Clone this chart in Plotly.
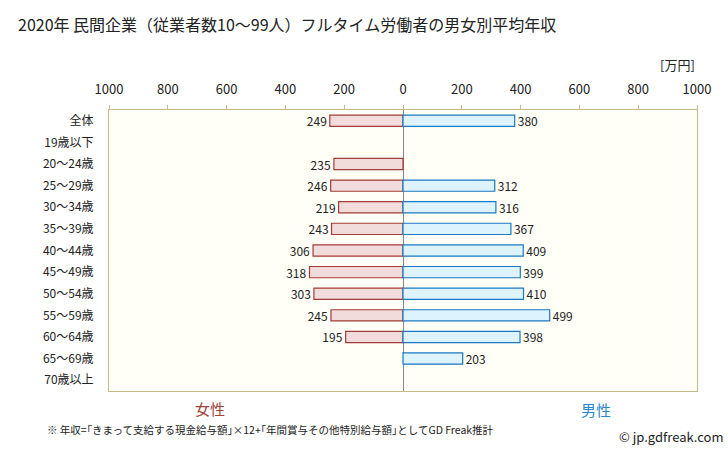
import plotly.graph_objects as go

categories = ["全体", "19歳以下", "20～24歳", "25～29歳", "30～34歳", "35～39歳", "40～44歳",
              "45～49歳", "50～54歳", "55～59歳", "60～64歳", "65～69歳", "70歳以上"]
female = [249, None, 235, 246, 219, 243, 306, 318, 303, 245, 195, None, None]
male = [380, None, None, 312, 316, 367, 409, 399, 410, 499, 398, 203, None]
tick_vals = [-1000, -800, -600, -400, -200, 0, 200, 400, 600, 800, 1000]
tick_text = ["1000", "800", "600", "400", "200", "0", "200", "400", "600", "800", "1000"]

FONT = "Noto Sans CJK JP"
ML, MR, MT, MB = 109, 31, 110, 60
W, H = 728, 451

fig = go.Figure()
fig.add_trace(go.Bar(
    y=categories, x=[-v if v is not None else None for v in female], orientation="h",
    marker=dict(color="#F2DCDB", line=dict(color="#A33B36", width=1.2)),
    text=[str(v) if v is not None else "" for v in female], textposition="outside",
    constraintext="none",
    textfont=dict(size=12, color="#222", family=FONT), cliponaxis=False, width=0.52,
    hoverinfo="skip"))
fig.add_trace(go.Bar(
    y=categories, x=male, orientation="h",
    marker=dict(color="#DDF4FF", line=dict(color="#1A78C2", width=1.2)),
    text=[str(v) if v is not None else "" for v in male], textposition="outside",
    constraintext="none",
    textfont=dict(size=12, color="#222", family=FONT), cliponaxis=False, width=0.52,
    hoverinfo="skip"))

fig.update_layout(
    width=W, height=H, barmode="overlay", showlegend=False,
    margin=dict(l=ML, r=MR, t=MT, b=MB),
    paper_bgcolor="white", plot_bgcolor="#FFFEF7",
    font=dict(family=FONT, size=12, color="#222"),
    title=dict(text="2020年 民間企業（従業者数10～99人）フルタイム労働者の男女別平均年収",
               x=18 / W, xanchor="left", y=1 - 25 / H, yanchor="middle",
               font=dict(size=16, color="#222", family=FONT)),
    xaxis=dict(range=[-1000, 1000], side="top", tickvals=tick_vals, ticktext=tick_text,
               showgrid=False, zeroline=True, zerolinecolor="#888888", zerolinewidth=1,
               ticks="outside", ticklen=4, tickcolor="#C8B88A", showline=True,
               linecolor="#C8B88A", mirror=True, tickfont=dict(size=13, color="#222"),
               ticklabelstandoff=6, fixedrange=True),
    yaxis=dict(autorange="reversed", showgrid=False, showline=True, linecolor="#C8B88A",
               mirror=True, ticks="", ticklabelstandoff=12, tickfont=dict(size=12, color="#222"),
               fixedrange=True),
)

pw, ph = W - ML - MR, H - MT - MB


def ann(text, px, py, xanchor="center", size=12, color="#222"):
    return dict(text=text, xref="paper", yref="paper", x=(px - ML) / pw, y=(H - MB - py) / ph,
                xanchor=xanchor, yanchor="middle", showarrow=False,
                font=dict(size=size, color=color, family=FONT))


fig.update_layout(annotations=[
    ann("[万円]", 697, 65, xanchor="right", size=13),
    ann("女性", 210, 408, size=15, color="#A0403A"),
    ann("男性", 596, 409, size=15, color="#2A88CC"),
    ann("※ 年収=｢きまって支給する現金給与額｣×12+｢年間賞与その他特別給与額｣としてGD Freak推計",
        45, 430, xanchor="left", size=10.5),
    ann("© jp.gdfreak.com", 726, 436, xanchor="right", size=13),
])

fig.write_html("out.html", config={"displayModeBar": False},
               post_script="document.body.style.margin='0';")
